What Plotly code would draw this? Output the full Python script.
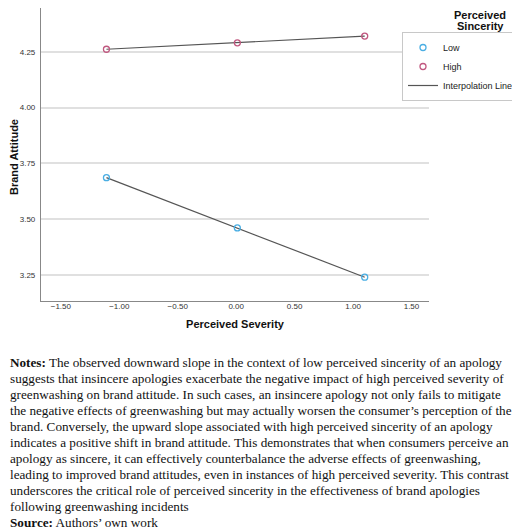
import plotly.graph_objects as go

# values
severity = [-1.11, 0.01, 1.10]
attitude_low = [3.686, 3.461, 3.240]
attitude_high = [4.261, 4.290, 4.320]
y_ticks = [3.25, 3.50, 3.75, 4.00, 4.25]
x_ticks = [-1.5, -1.0, -0.5, 0.0, 0.5, 1.0, 1.5]

notes_lines = [
    "<b>Notes:</b> The observed downward slope in the context of low perceived sincerity of an apology",
    "suggests that insincere apologies exacerbate the negative impact of high perceived severity of",
    "greenwashing on brand attitude. In such cases, an insincere apology not only fails to mitigate",
    "the negative effects of greenwashing but may actually worsen the consumer\u2019s perception of the",
    "brand. Conversely, the upward slope associated with high perceived sincerity of an apology",
    "indicates a positive shift in brand attitude. This demonstrates that when consumers perceive an",
    "apology as sincere, it can effectively counterbalance the adverse effects of greenwashing,",
    "leading to improved brand attitudes, even in instances of high perceived severity. This contrast",
    "underscores the critical role of perceived sincerity in the effectiveness of brand apologies",
    "following greenwashing incidents",
    "<b>Source:</b> Authors\u2019 own work",
]

low_col = "#4AAEE3"
high_col = "#C0577F"
line_col = "#555555"

# the page adds an 8px body margin, so the figure is 8px smaller each way
W, H = 512, 522
L, R, T, B = 33, 91, 0, 229
plot_w = W - L - R
plot_h = H - T - B

fig = go.Figure()

# interpolation lines (drawn first, markers on top)
fig.add_trace(go.Scatter(x=severity, y=attitude_low, mode="lines",
                         line=dict(color=line_col, width=1.2), showlegend=False, hoverinfo="skip"))
fig.add_trace(go.Scatter(x=severity, y=attitude_high, mode="lines",
                         line=dict(color=line_col, width=1.2), showlegend=False, hoverinfo="skip"))

fig.add_trace(go.Scatter(x=severity, y=attitude_low, mode="markers", name="Low",
                         marker=dict(symbol="circle-open", size=6, color=low_col, line=dict(width=1.3))))
fig.add_trace(go.Scatter(x=severity, y=attitude_high, mode="markers", name="High",
                         marker=dict(symbol="circle-open", size=6, color=high_col, line=dict(width=1.3))))
# legend entry only
fig.add_trace(go.Scatter(x=[None], y=[None], mode="lines", name="Interpolation Line",
                         line=dict(color=line_col, width=1.2)))

fig.update_layout(
    width=W, height=H,
    margin=dict(l=L, r=R, t=T, b=B, autoexpand=False),
    paper_bgcolor="white", plot_bgcolor="white",
    font=dict(family="Liberation Sans, Arial, sans-serif", color="#222222"),
    showlegend=True,
    legend=dict(x=(511 - L) / plot_w, y=(plot_h - 24) / plot_h, xanchor="right", yanchor="top",
                bordercolor="#C8C8C8", borderwidth=1, bgcolor="white",
                font=dict(size=9, color="#222222"),
                itemwidth=30, tracegroupgap=0),
)

fig.update_xaxes(
    range=[-1.67, 1.65], tickvals=x_ticks, tickformat=".2f",
    showgrid=False, zeroline=False,
    showline=True, linecolor="#888888", linewidth=1.2,
    ticks="", ticklabelstandoff=-3, tickfont=dict(size=8, color="#333333"),
    title=dict(text="<b>Perceived Severity</b>", font=dict(size=11, color="#111111"), standoff=10),
)
fig.update_yaxes(
    range=[3.1335, 4.4458], tickvals=y_ticks, tickformat=".2f",
    showgrid=True, gridcolor="#E0E0E0", gridwidth=1.5, zeroline=False,
    showline=True, linecolor="#888888", linewidth=1.2,
    ticks="", ticklabelstandoff=3, tickfont=dict(size=8, color="#333333"),
)

# y axis title
fig.add_annotation(text="<b>Brand Attitude</b>", xref="paper", yref="paper",
                   x=(6 - L) / plot_w, y=(plot_h - 149) / plot_h, textangle=-90,
                   xanchor="center", yanchor="middle", showarrow=False,
                   font=dict(size=11, color="#111111"))

# legend title sits above the box, two tight lines
for txt, y_px in [("<b>Perceived</b>", 6.7), ("<b>Sincerity</b>", 17.7)]:
    fig.add_annotation(text=txt, xref="paper", yref="paper",
                       x=(472 - L) / plot_w, y=(plot_h - y_px) / plot_h,
                       xanchor="center", yanchor="middle", showarrow=False,
                       font=dict(size=11, color="#111111"))

# notes below the chart, one annotation per line
top_px = 354.7
step_px = 16.0
for i, line in enumerate(notes_lines):
    y_px = top_px + i * step_px
    fig.add_annotation(text=line, xref="paper", yref="paper",
                       x=-L / plot_w, y=(plot_h - y_px) / plot_h,
                       xanchor="left", yanchor="middle", showarrow=False,
                       font=dict(family="Liberation Serif, Times New Roman, serif", size=13.2, color="#111111"))

fig.write_html("out.html")
